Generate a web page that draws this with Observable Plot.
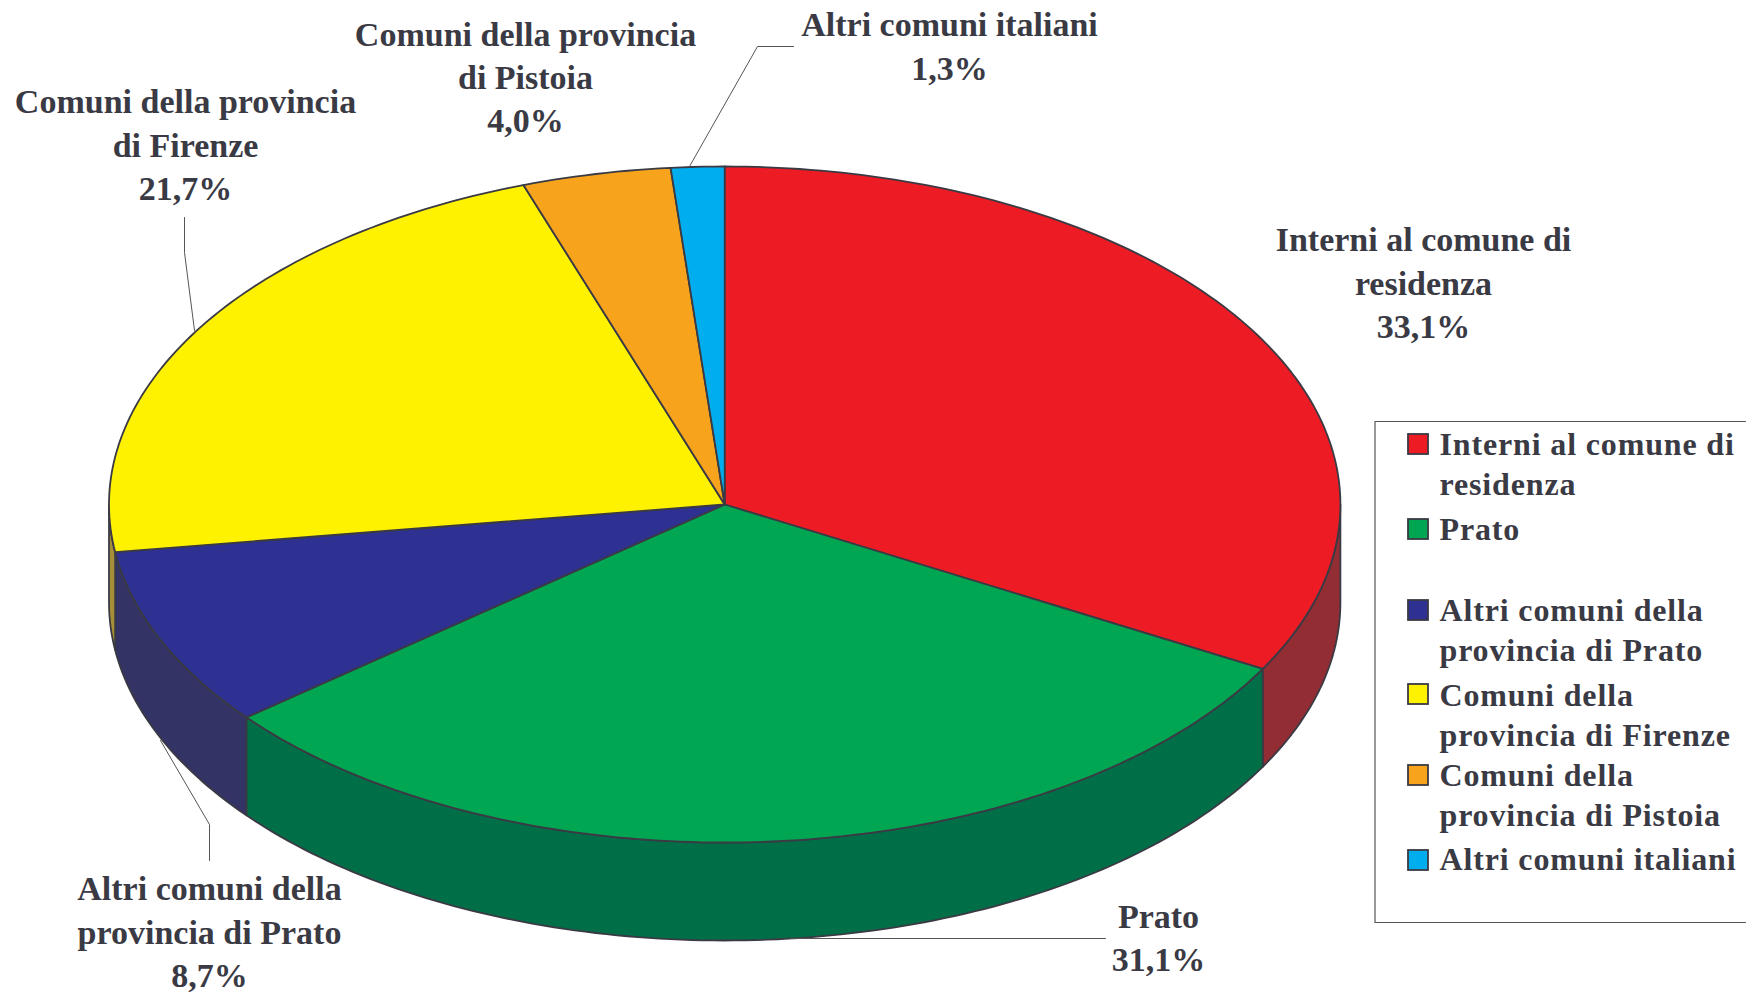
<!DOCTYPE html>
<html>
<head>
<meta charset="utf-8">
<script src="https://cdn.jsdelivr.net/npm/d3@7"></script>
<script src="https://cdn.jsdelivr.net/npm/@observablehq/plot@0.6"></script>
<style>
html,body{margin:0;padding:0;background:#fff;overflow:hidden}
svg{display:block}
.leg text{letter-spacing:0.85px}
</style>
</head>
<body>
<div id="chart"></div>
<script>
// ---- data ----
const categories = ["Interni al comune di residenza","Prato","Altri comuni della provincia di Prato","Comuni della provincia di Firenze","Comuni della provincia di Pistoia","Altri comuni italiani"];
const labelValues = ["33,1%","31,1%","8,7%","21,7%","4,0%","1,3%"];
// slice sizes (the printed labels are rounded)
const sliceShares = [33.08,31.08,8.59,21.95,3.9,1.4];
const topColors = ["#ed1c24","#00a651","#2e3192","#fff200","#f7a41c","#00aeef"];
const wallColors = ["#922d34","#006f47","#333366","#a68f38","#8a5f20","#0a6a90"];
const labelLines = ["Interni al comune di\nresidenza","Prato","Altri comuni della\nprovincia di Prato","Comuni della provincia\ndi Firenze","Comuni della provincia\ndi Pistoia","Altri comuni italiani"];
const legendLines = ["Interni al comune di\nresidenza","Prato","Altri comuni della\nprovincia di Prato","Comuni della\nprovincia di Firenze","Comuni della\nprovincia di Pistoia","Altri comuni italiani"];

// ---- layout (page pixels) ----
const W = 1746, H = 994, CX = 724.2, CY = 504, RX = 615.7, RY = 338, DEPTH = 98;
const ink = "#3a3a44";
const X = p => (p - CX) / RX, Y = p => (p - CY) / RY;
const labelPos = [[1423,280.5],[1158,935],[209,929.5],[185,142.2],[525,74.7],[949,43.5]];
const legendTextY = [462,526.5,628,713,793,857];
const swatchY = [444,529,610,694,775,860];
const leaders = [
  [[689,166],[757,46],[793,46]],
  [[790,938],[1105,938]],
  [[160,740],[209,824],[209,860]],
  [[184,217],[184,252],[194,330]]
];

// ---- geometry derived from the shares ----
const total = d3.sum(sliceShares);
const edges = d3.cumsum(sliceShares).map(v => v / total * 360);
const starts = [0, ...edges.slice(0, -1)];
const pt = a => [Math.sin(a*Math.PI/180), -Math.cos(a*Math.PI/180)];
const arc = (a0, a1) => d3.range(0, Math.ceil(a1-a0)+1).map(i => pt(Math.min(a0+i, a1)));
const depthU = DEPTH / RY;
const wall = (a0, a1) => { const t = arc(a0, a1); return [...t, ...t.slice().reverse().map(([x,y]) => [x, y+depthU])]; };

const marks = [];
const poly = (pts, fill, sw) => Plot.line(pts, {x:d=>d[0], y:d=>d[1], fill, stroke:ink, strokeWidth:sw, curve:"linear-closed", strokeLinejoin:"round"});

// visible side walls: front half only, angles 90..270
starts.forEach((s,i) => {
  const a0 = Math.max(s, 90), a1 = Math.min(edges[i], 270);
  if (a1 > a0) marks.push(poly(wall(a0,a1), wallColors[i], 1.8));
});
// top faces
starts.forEach((s,i) => marks.push(poly([[0,0], ...arc(s, edges[i])], topColors[i], 1.8)));

// leader lines
leaders.forEach(l => marks.push(Plot.line(l, {x:d=>X(d[0]), y:d=>Y(d[1]), stroke:"#555", strokeWidth:1})));

// data labels
marks.push(Plot.text(categories.map((c,i)=>({t:labelLines[i]+"\n"+labelValues[i], p:labelPos[i]})), {
  x:d=>X(d.p[0]), y:d=>Y(d.p[1]), text:"t", textAnchor:"middle", lineAnchor:"middle",
  fontFamily:"Liberation Serif", fontWeight:"bold", fontSize:34, lineHeight:1.277, fill:ink, className:"lab"
}));

// legend
const LX0 = 1374.5, LX1 = 1750, LY0 = 421, LY1 = 922;
marks.push(Plot.line([[LX1,LY0],[LX0,LY0],[LX0,LY1],[LX1,LY1]], {x:d=>X(d[0]), y:d=>Y(d[1]), stroke:"#555", strokeWidth:1.2}));
marks.push(Plot.rect(categories.map((c,i)=>i), {
  x1:i=>X(1408), x2:i=>X(1428), y1:i=>Y(swatchY[i]-10), y2:i=>Y(swatchY[i]+10),
  fill:i=>topColors[i], stroke:ink, strokeWidth:1.8
}));
marks.push(Plot.text(categories.map((c,i)=>i), {
  x:i=>X(1439), y:i=>Y(legendTextY[i]), text:i=>legendLines[i], textAnchor:"start", lineAnchor:"middle",
  fontFamily:"Liberation Serif", fontWeight:"bold", fontSize:32, lineHeight:1.25, fill:ink, className:"leg"
}));

const chart = Plot.plot({
  width:W, height:H, margin:0,
  x:{domain:[X(0),X(W)], range:[0,W], axis:null},
  y:{domain:[Y(0),Y(H)], range:[0,H], axis:null},
  style:{background:"#fff"},
  fill:{type:"identity"}, stroke:{type:"identity"},
  marks
});
document.getElementById("chart").append(chart);
</script>
</body>
</html>
